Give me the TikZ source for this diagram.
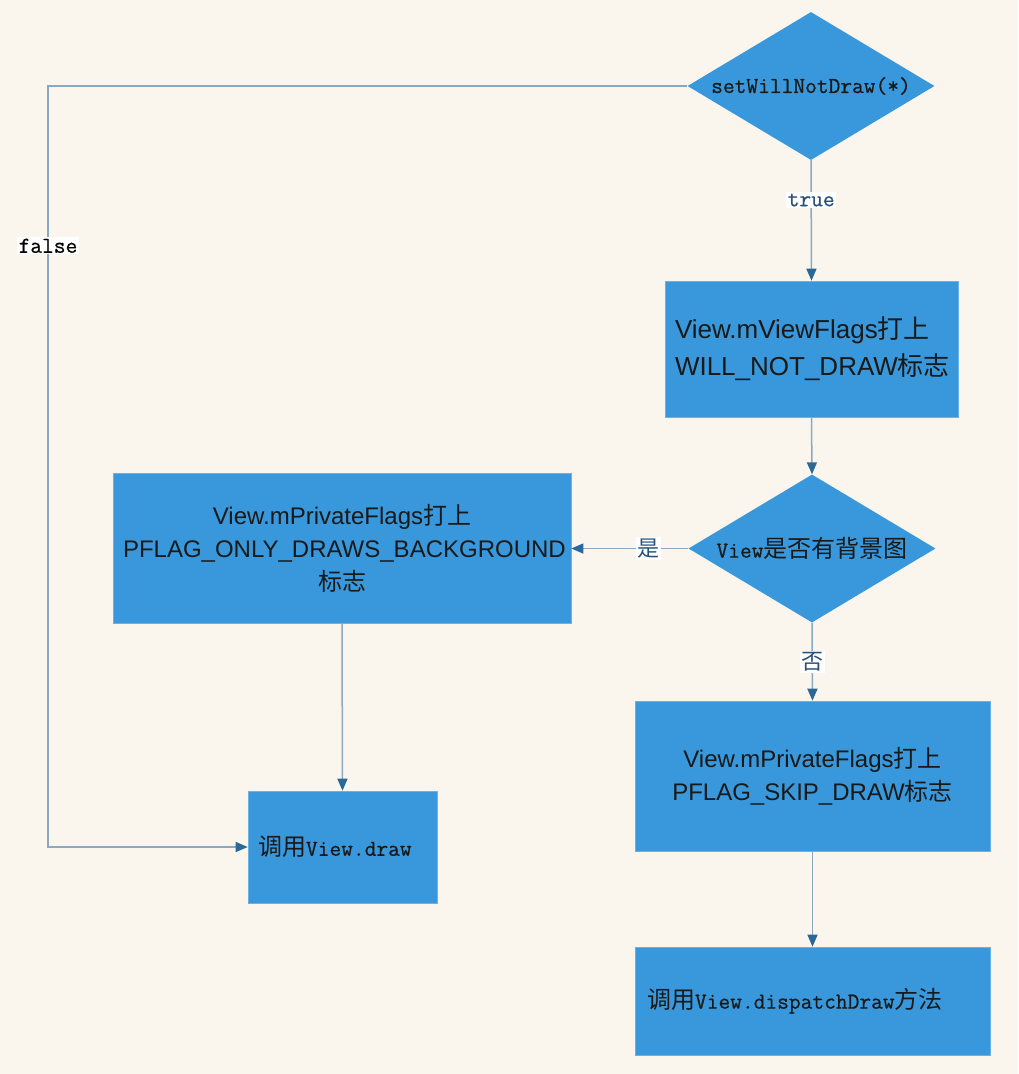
\documentclass[tikz,border=0pt]{standalone}
\usepackage{fontspec}
\setsansfont{Liberation Sans}
\setmonofont{Latin Modern Mono}[FakeBold=0.6]
\newfontfamily\cjk{Noto Sans CJK SC}
\usetikzlibrary{shapes.geometric,arrows.meta}
\definecolor{bgc}{RGB}{250,246,238}
\definecolor{boxc}{RGB}{56,152,219}
\definecolor{linec}{RGB}{140,168,192}
\definecolor{tipc}{RGB}{44,104,150}
\definecolor{lblc}{RGB}{40,80,120}
\tikzset{
 boxnode/.style={rectangle, fill=boxc, draw=boxc!75!white, line width=0.6pt, inner ysep=0pt, text=black!90,
   font=\sffamily\fontsize{24}{33}\selectfont},
 dianode/.style={diamond, aspect=1.669, fill=boxc, inner sep=0pt, minimum width=247pt, minimum height=148pt, text=black!90,
   font=\ttfamily\fontsize{22.8}{26}\selectfont},
 conn/.style={draw=linec, line width=1.5pt, -{Triangle[length=12pt,width=10pt,color=tipc]}},
 lbl/.style={fill=white, inner sep=1.5pt, font=\ttfamily\fontsize{22.8}{26}\selectfont, text=lblc},
}
\begin{document}
\begin{tikzpicture}[x=1pt,y=-1pt]
\useasboundingbox[fill=bgc] (0,0) rectangle (1018,1074);
\node[dianode] (d1) at (811,86) {setWillNotDraw(*)};
\node[boxnode, minimum height=136pt, inner xsep=10pt, text width=273pt, align=left,
  font=\sffamily\fontsize{26}{37}\selectfont] (b1) at (811.5,349)
  {View.mViewFlags{\cjk 打上}\\WILL\_NOT\_DRAW{\cjk 标志}};
\node[dianode] (d2) at (812,548.5) {View{\cjk\fontsize{24}{26}\selectfont 是否有背景图}};
\node[boxnode, minimum height=150pt, inner xsep=10pt, text width=438pt, align=center] (b2) at (342,548.5)
  {View.mPrivateFlags{\cjk 打上}\\PFLAG\_ONLY\_DRAWS\_BACKGROUND\\{\cjk 标志}};
\node[boxnode, minimum height=150pt, inner xsep=10pt, text width=335pt, align=center] (b3) at (812.5,776)
  {View.mPrivateFlags{\cjk 打上}\\PFLAG\_SKIP\_DRAW{\cjk 标志}};
\node[boxnode, minimum height=112pt, inner xsep=10pt, text width=169pt, align=left,
  font=\ttfamily\fontsize{22.8}{26}\selectfont] (b4) at (342.5,847)
  {{\cjk\fontsize{24}{26}\selectfont 调用}View.draw};
\node[boxnode, minimum height=108pt, inner xsep=12pt, text width=331pt, align=left,
  font=\ttfamily\fontsize{22.8}{26}\selectfont] (b5) at (812.5,1001)
  {{\cjk\fontsize{24}{26}\selectfont 调用}View.dispatchDraw{\cjk\fontsize{24}{26}\selectfont 方法}};
\coordinate (fl) at (48,86);
\coordinate (fb) at (48,847);
\draw[conn] (d1.south) -- node[lbl, pos=0.33]{true} (b1.north);
\draw[conn] (d1.west) -- (fl) -- node[lbl, pos=0.21, text=black]{false} (fb) -- (b4.west);
\draw[conn] (b1.south) -- (d2.north);
\draw[conn] (d2.west) -- node[lbl, pos=0.34]{{\cjk\fontsize{22}{26}\selectfont 是}} (b2.east);
\draw[conn] (d2.south) -- node[lbl, pos=0.5]{{\cjk\fontsize{22}{26}\selectfont 否}} (b3.north);
\draw[conn] (b2.south) -- (b4.north);
\draw[conn] (b3.south) -- (b5.north);
\end{tikzpicture}
\end{document}
